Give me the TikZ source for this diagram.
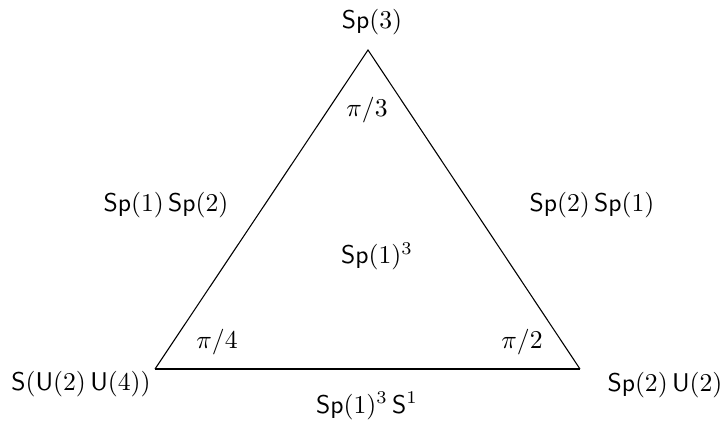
\documentclass[tikz,border=0pt]{standalone}
\begin{document}
\begin{tikzpicture}[x=0.39pt,y=-0.39pt,
  lab/.style={inner sep=0pt, anchor=base}]
\useasboundingbox (0,0) rectangle (725,421);
\coordinate (T) at (368,50);
\coordinate (L) at (155,369);
\coordinate (R) at (580,369);
\draw[line width=0.42pt] (L) -- (T) -- (R);
\draw[line width=0.8pt] (L) -- (R);
\node[lab] (n1) at (372,28.5) {$\mathsf{Sp}(3)$};
\node[lab] (n2) at (367,116) {$\pi/3$};
\node[lab] (n3) at (166,211) {$\mathsf{Sp}(1)\,\mathsf{Sp}(2)$};
\node[lab] (n4) at (592,211) {$\mathsf{Sp}(2)\,\mathsf{Sp}(1)$};
\node[lab] (n5) at (377,263.5) {$\mathsf{Sp}(1)^3$};
\node[lab] (n6) at (217,348) {$\pi/4$};
\node[lab] (n7) at (522,348) {$\pi/2$};
\node[lab] (n8) at (81,390.5) {$\mathsf{S}(\mathsf{U}(2)\,\mathsf{U}(4))$};
\node[lab] (n9) at (665,391.5) {$\mathsf{Sp}(2)\,\mathsf{U}(2)$};
\node[lab] (n10) at (367,413) {$\mathsf{Sp}(1)^3\,\mathsf{S}^1$};
\end{tikzpicture}
\end{document}
